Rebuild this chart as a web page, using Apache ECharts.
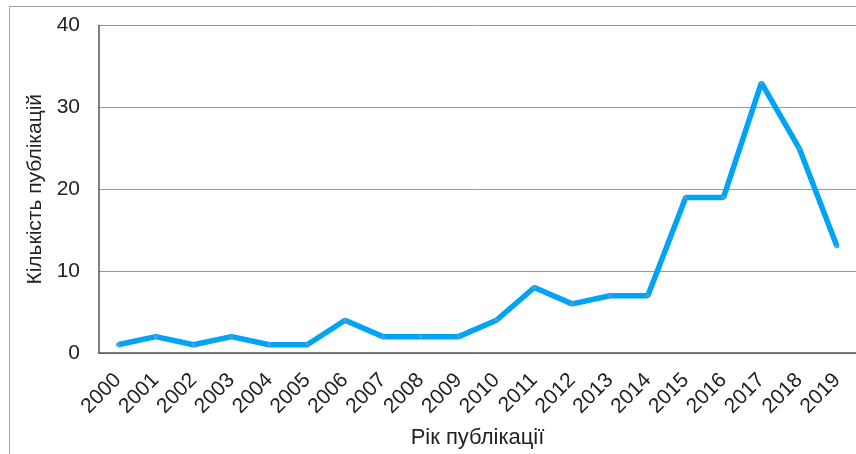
<!DOCTYPE html>
<html>
<head>
<meta charset="utf-8">
<script src="https://cdn.jsdelivr.net/npm/echarts@6/dist/echarts.min.js"></script>
<style>
  html, body { margin: 0; padding: 0; background: #fff; }
  #chart { width: 856px; height: 454px; }
</style>
</head>
<body>
<div id="chart"></div>
<script>
  // роки публікацій
  var years = ['2000','2001','2002','2003','2004','2005','2006','2007','2008','2009',
               '2010','2011','2012','2013','2014','2015','2016','2017','2018','2019']
  // кількість публікацій
  var counts = [1, 2, 1, 2, 1, 1, 4, 2, 2, 2, 4, 8, 6, 7, 7, 19, 19, 33, 25, 13]
  var yTicks = [0, 10, 20, 30, 40]

  var chart = echarts.init(document.getElementById('chart'))
  var font = 'Arial, "Liberation Sans", sans-serif'

  var option = {
    animation: false,
    backgroundColor: '#fff',
    // рамка навколо діаграми (обрізана справа і знизу)
    graphic: [{
      type: 'rect',
      shape: { x: 9.5, y: 6.5, width: 900, height: 500 },
      style: { fill: 'none', stroke: '#a0a0a0', lineWidth: 1 },
      z: -1
    }],
    grid: { left: 99, top: 25.5, right: -4, bottom: 99 },
    xAxis: {
      type: 'category',
      data: years,
      boundaryGap: true,
      name: 'Рік публікації',
      nameLocation: 'middle',
      nameGap: 74,
      nameTextStyle: { fontSize: 22, color: '#222', fontFamily: font },
      axisLine: { lineStyle: { color: '#555', width: 1.5 } },
      axisTick: { inside: true, length: 6, lineStyle: { color: '#555' } },
      axisLabel: { rotate: 45, margin: 24, fontSize: 21, color: '#222', fontFamily: font, interval: 0 },
      splitLine: { show: false }
    },
    yAxis: {
      type: 'value',
      min: yTicks[0],
      max: yTicks[yTicks.length - 1],
      interval: 10,
      name: 'Кількість публікацій',
      nameLocation: 'middle',
      nameGap: 48,
      nameTextStyle: { fontSize: 21, color: '#222', fontFamily: font },
      axisLine: { show: true, lineStyle: { color: '#555', width: 1.5 } },
      axisTick: { show: false },
      axisLabel: { margin: 19, fontSize: 21, color: '#222', fontFamily: font },
      splitLine: { lineStyle: { color: '#999', width: 1 } }
    },
    series: [{
      type: 'line',
      data: counts,
      symbol: 'circle',
      symbolSize: 4,
      lineStyle: { color: '#00a3f5', width: 5.5 },
      itemStyle: { color: '#4d9fd6' }
    }]
  }

  chart.setOption(option)
</script>
</body>
</html>
